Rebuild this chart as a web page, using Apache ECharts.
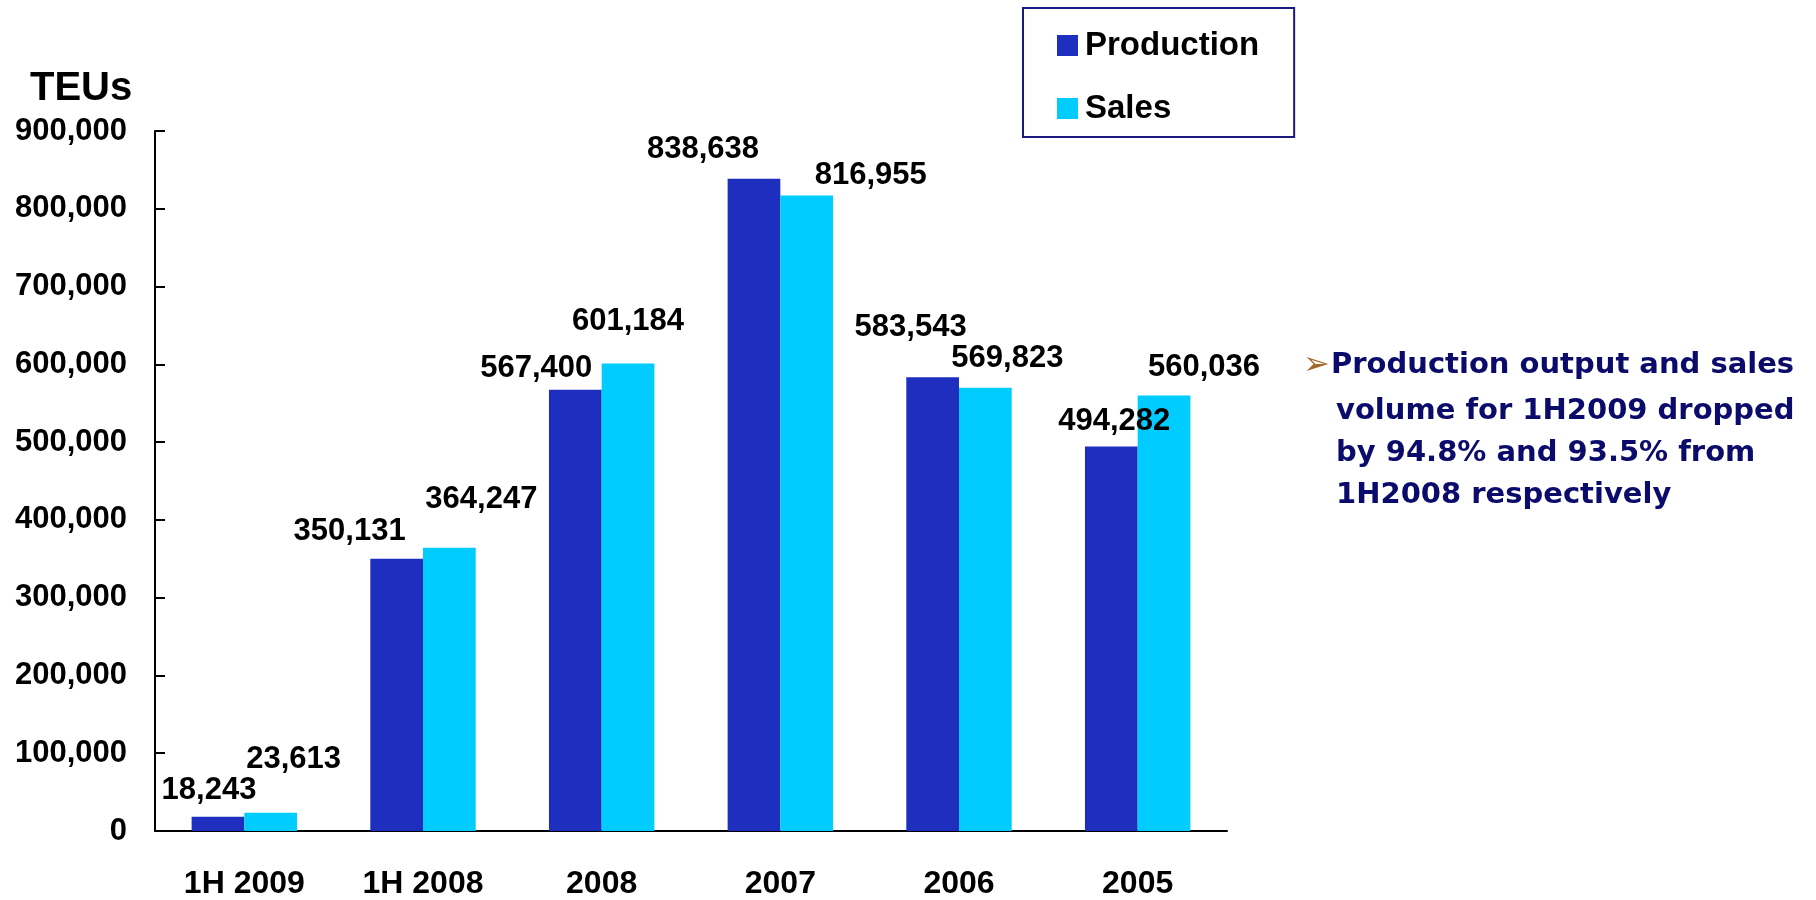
<!DOCTYPE html>
<html>
<head>
<meta charset="utf-8">
<script src="https://cdn.jsdelivr.net/npm/echarts@6/dist/echarts.min.js"></script>
<style>
  html, body { margin: 0; padding: 0; background: #fff; }
  #chart { width: 1816px; height: 900px; }
</style>
</head>
<body>
<div id="chart"></div>
<script>
const categories = ["1H 2009", "1H 2008", "2008", "2007", "2006", "2005"];
const production = [18243, 350131, 567400, 838638, 583543, 494282];
const sales = [23613, 364247, 601184, 816955, 569823, 560036];
const yTicks = [0, 100000, 200000, 300000, 400000, 500000, 600000, 700000, 800000, 900000];
const noteLines = [
  "Production output and sales",
  "volume for 1H2009 dropped",
  "by 94.8% and 93.5% from",
  "1H2008 respectively"
];

document.addEventListener("DOMContentLoaded", function () {
  const myChart = echarts.init(document.getElementById("chart"));
  const font = "'Liberation Sans', Arial, sans-serif";
  const fmt = function (v) {
    return Number(v).toLocaleString("en-US");
  };

  // labels were dragged around by hand in the original, so nudge each one
  const prodShift = [[-9, -11], [-47, -12], [-39, -6], [-51, -14], [-22, -34], [3, -10]];
  const salesShift = [[23, -38], [32, -33], [0, -26], [64, -5], [22, -14], [40, -12]];

  function withLabels(values, shifts) {
    return values.map(function (v, i) {
      return { value: v, label: { offset: shifts[i] } };
    });
  }

  const labelStyle = {
    show: true,
    position: "top",
    distance: 0,
    color: "#000",
    fontFamily: font,
    fontWeight: "bold",
    fontSize: 31,
    formatter: function (p) {
      return fmt(p.value);
    },
  };

  const lineY = [365, 411, 453, 495];
  const graphics = [
    {
      type: "text",
      x: 1303,
      y: 366,
      style: {
        text: "➢",
        fill: "#a5692e",
        font: "32px 'DejaVu Sans'",
        verticalAlign: "middle",
      },
    },
  ];
  noteLines.forEach(function (line, i) {
    graphics.push({
      type: "text",
      x: i === 0 ? 1331 : 1336,
      y: lineY[i],
      style: {
        text: line,
        fill: "#0b0b6b",
        font: "bold 29px 'DejaVu Sans'",
        verticalAlign: "middle",
      },
    });
  });

  const option = {
    animation: false,
    backgroundColor: "#fff",
    title: {
      text: "TEUs",
      left: 25,
      top: 64,
      textStyle: {
        color: "#000",
        fontFamily: font,
        fontWeight: "bold",
        fontSize: 40,
      },
    },
    legend: {
      data: ["Production", "Sales"],
      orient: "vertical",
      left: 1023,
      top: 8,
      padding: [21, 35, 12, 34],
      itemGap: 30,
      itemWidth: 21,
      itemHeight: 21,
      borderColor: "#1a1a80",
      borderWidth: 2,
      icon: "rect",
      textStyle: {
        color: "#000",
        fontFamily: font,
        fontWeight: "bold",
        fontSize: 33,
        padding: [0, 0, 0, 2],
      },
    },
    grid: {
      left: 155,
      right: 589,
      top: 131,
      bottom: 66,
      containLabel: false,
    },
    xAxis: {
      type: "category",
      data: categories,
      axisLine: { lineStyle: { color: "#000", width: 2 } },
      axisTick: { inside: true, length: 10, lineStyle: { color: "#000", width: 2 } },
      axisLabel: {
        color: "#000",
        fontFamily: font,
        fontWeight: "bold",
        fontSize: 32,
        margin: 37,
      },
    },
    yAxis: {
      type: "value",
      min: yTicks[0],
      max: yTicks[yTicks.length - 1],
      interval: yTicks[1] - yTicks[0],
      splitLine: { show: false },
      axisLine: { show: true, lineStyle: { color: "#000", width: 2 } },
      axisTick: { show: true, inside: true, length: 10, lineStyle: { color: "#000", width: 2 } },
      axisLabel: {
        color: "#000",
        fontFamily: font,
        fontWeight: "bold",
        fontSize: 31,
        margin: 28,
        formatter: fmt,
      },
    },
    series: [
      {
        name: "Production",
        type: "bar",
        barGap: "0%",
        barCategoryGap: "41%",
        itemStyle: { color: "#1e2ebe" },
        label: labelStyle,
        data: withLabels(production, prodShift),
      },
      {
        name: "Sales",
        type: "bar",
        itemStyle: { color: "#00ccff" },
        label: labelStyle,
        data: withLabels(sales, salesShift),
      },
    ],
    graphic: graphics,
  };

  myChart.setOption(option);
  window.addEventListener("resize", function () {
    myChart.resize();
  });
});
</script>
</body>
</html>
